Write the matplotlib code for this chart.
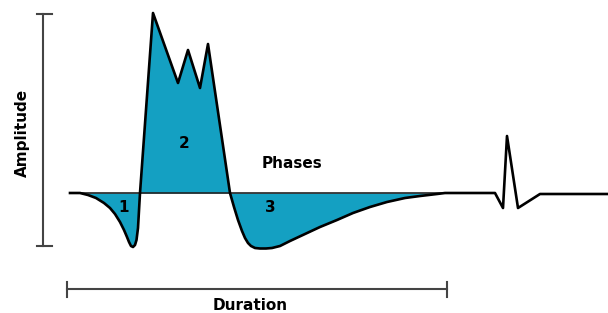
import matplotlib
matplotlib.use('Agg')
import matplotlib.pyplot as plt
import numpy as np

# waveform: time (px) and amplitude above baseline (px)
t_wave = [70, 80, 88, 96, 104, 110, 115, 120, 124, 127, 129, 131, 133, 135, 136.5, 138, 140,
          153, 178, 188, 200, 208, 230,
          234, 238, 242, 245, 248, 251, 255, 260, 266, 272, 280, 290, 305, 320, 337, 353, 370,
          387, 405, 420, 437, 445,
          495, 503, 507, 518, 529, 540, 608]
amp_wave = [0, 0, -2, -5, -10, -15, -21, -29, -37, -44, -49, -53, -54, -52, -47, -35, 0,
            180, 110, 143, 105, 149, 0,
            -14, -27, -38, -45, -50, -53, -55, -55.5, -55.5, -55, -53, -48, -41, -34, -27, -20,
            -14, -9, -5, -3, -1, 0,
            0, -15, 57, -15, -8, -1, -1]
phase_end = 445

phase_labels = ['1', '2', '3']
phase_lx = [124, 184, 270]
phase_ly = [-15, 50, -15]

fill_col = '#14a0c2'

fig = plt.figure(figsize=(6.08, 3.13), dpi=100)
ax = fig.add_axes([0, 0, 1, 1])
ax.set_xlim(0, 608)
ax.set_ylim(-120, 193)
ax.axis('off')

t = np.array(t_wave, dtype=float)
a = np.array(amp_wave, dtype=float)
ax.fill_between(t, a, 0, where=t <= phase_end, color=fill_col, linewidth=0, interpolate=True)
ax.plot([t[0], phase_end], [0, 0], color='#222222', lw=1.2)
ax.plot(t, a, color='black', lw=1.9, solid_joinstyle='round')

for lab, x, y in zip(phase_labels, phase_lx, phase_ly):
    ax.text(x, y, lab, ha='center', va='center', fontsize=11, fontweight='bold')
ax.text(292, 29, 'Phases', ha='center', va='center', fontsize=11, fontweight='bold')

# amplitude bar
bar_col = '#444444'
ax.plot([43, 43], [-53, 179], color=bar_col, lw=1.5)
ax.plot([37, 52], [179, 179], color=bar_col, lw=1.5)
ax.plot([37, 52], [-53, -53], color=bar_col, lw=1.5)
ax.text(22, 60, 'Amplitude', rotation=90, ha='center', va='center', fontsize=11, fontweight='bold')

# duration bar
ax.plot([67, 447], [-96, -96], color=bar_col, lw=1.5)
ax.plot([67, 67], [-89, -104], color=bar_col, lw=1.5)
ax.plot([447, 447], [-89, -104], color=bar_col, lw=1.5)
ax.text(250, -112, 'Duration', ha='center', va='center', fontsize=11, fontweight='bold')

plt.savefig('out.png', dpi=100)
